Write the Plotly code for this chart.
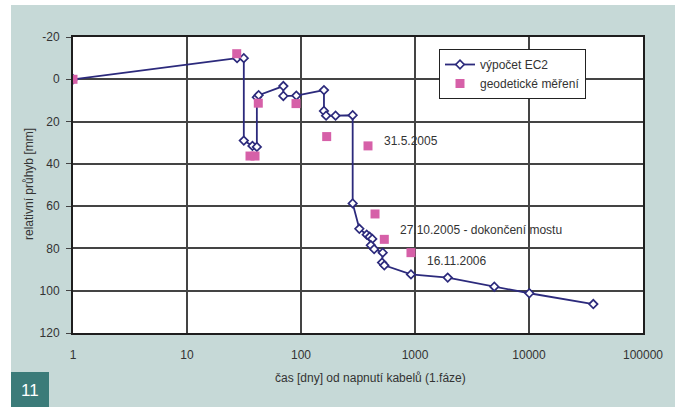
import math
import plotly.graph_objects as go

# ---- data ----
ec2_days = [1, 27.5, 31.5, 31.5, 37.5, 41, 41, 42.5, 70, 70, 91, 159, 159, 166, 201,
            284, 284, 325, 377, 400, 422, 410, 438, 521, 514, 538, 922, 1936, 4963, 10070, 36650]
ec2_defl = [0, -10, -10, 29, 31.5, 32, 8.5, 7.5, 3.2, 7.9, 7.7, 5.1, 15, 17.2, 17.2,
            17, 58.7, 70.7, 73.5, 74.5, 75.5, 78.5, 80.3, 82, 86.7, 88, 92.3, 93.8, 98.1, 101.2, 106.3]

geo_days = [1, 27.3, 35.7, 39.5, 42.2, 90.4, 168, 387, 446, 538, 922]
geo_defl = [0, -12.1, 36.3, 36.3, 11.3, 11.5, 27.1, 31.5, 63.7, 75.7, 82.0]

x_tickvals = [1, 10, 100, 1000, 10000, 100000]
x_ticktext = ["1", "10", "100", "1000", "10000", "100000"]
y_tickvals = [-20, 0, 20, 40, 60, 80, 100, 120]
y_ticktext = ["-20", "0", "20", "40", "60", "80", "100", "120"]

notes = [("31.5.2005", 510, 29.0),
         ("27.10.2005 - dokončení mostu", 709, 71.3),
         ("16.11.2006", 1223, 85.8)]

NAVY = "#2C2A7C"
PINK = "#D660A8"
TXT = "#333333"
PANEL = "#C6D9D7"
FONT = "Liberation Sans, Arial, sans-serif"

fig = go.Figure()
fig.add_trace(go.Scatter(
    x=ec2_days, y=ec2_defl, mode="lines+markers", name="výpočet EC2",
    line=dict(color=NAVY, width=1.8),
    marker=dict(symbol="diamond", size=6.5, color="white", line=dict(color=NAVY, width=1.7)),
))
fig.add_trace(go.Scatter(
    x=geo_days, y=geo_defl, mode="markers", name="geodetické měření",
    marker=dict(symbol="square", size=9, color=PINK, line=dict(width=0)),
))

for txt, xv, yv in notes:
    fig.add_annotation(x=math.log10(xv), y=yv, xref="x", yref="y", text=txt,
                       showarrow=False, xanchor="left", yanchor="middle",
                       font=dict(size=12, color=TXT, family=FONT))

# axis titles
fig.add_annotation(x=(370 - 73) / 570, y=(333 - 378) / 296, xref="paper", yref="paper",
                   text="čas [dny] od napnutí kabelů (1.fáze)", showarrow=False,
                   xanchor="center", yanchor="middle", font=dict(size=12, color=TXT, family=FONT))
fig.add_annotation(x=(29 - 73) / 570, y=(333 - 184) / 296, xref="paper", yref="paper",
                   text="relativní průhyb [mm]", showarrow=False, textangle=-90,
                   xanchor="center", yanchor="middle", font=dict(size=12, color=TXT, family=FONT))

# figure number box
fig.add_shape(type="rect", xref="paper", yref="paper",
              x0=(11 - 73) / 570, x1=(49 - 73) / 570, y0=(333 - 372) / 296, y1=(333 - 410) / 296,
              fillcolor="#3B7B79", line=dict(width=0), layer="above")
fig.add_annotation(x=(30 - 73) / 570, y=(333 - 390) / 296, xref="paper", yref="paper",
                   text="11", showarrow=False, xanchor="center", yanchor="middle",
                   font=dict(size=17, color="white", family=FONT))
# white strips outside the panel (left and top)
fig.add_shape(type="rect", xref="paper", yref="paper",
              x0=(-5 - 73) / 570, x1=(11 - 73) / 570, y0=(333 - 410) / 296, y1=(333 + 5) / 296,
              fillcolor="white", line=dict(width=0), layer="above")
fig.add_shape(type="rect", xref="paper", yref="paper",
              x0=(-5 - 73) / 570, x1=(680 - 73) / 570, y0=(333 - 5) / 296, y1=(333 + 5) / 296,
              fillcolor="white", line=dict(width=0), layer="above")

fig.update_xaxes(type="log", range=[0, 5], tickvals=x_tickvals, ticktext=x_ticktext,
                 showgrid=True, gridcolor="#444444", gridwidth=1.5,
                 showline=True, linecolor="#1e1e1e", linewidth=2, mirror=True,
                 ticks="", ticklabelstandoff=10, zeroline=False,
                 tickfont=dict(size=12, color=TXT, family=FONT))
fig.update_yaxes(range=[120, -20], tickvals=y_tickvals, ticktext=y_ticktext,
                 showgrid=True, gridcolor="#444444", gridwidth=1.5,
                 showline=True, linecolor="#1e1e1e", linewidth=2, mirror=True,
                 ticks="outside", ticklen=5, tickcolor="#444444", ticklabelstandoff=4,
                 zeroline=False, tickfont=dict(size=12, color=TXT, family=FONT))

fig.update_layout(
    width=675, height=407, autosize=False,
    margin=dict(l=73, r=32, t=37, b=74),
    paper_bgcolor=PANEL, plot_bgcolor="white",
    font=dict(family=FONT, color=TXT, size=12),
    showlegend=True,
    legend=dict(x=(439 - 73) / 570, y=(333 - 49) / 296, xanchor="left", yanchor="top",
                bgcolor="white", bordercolor="#222222", borderwidth=1,
                font=dict(size=12, color=TXT, family=FONT), tracegroupgap=0),
)

fig.write_html("out.html", config={"displayModeBar": False},
               post_script="document.body.style.margin='0px';")
